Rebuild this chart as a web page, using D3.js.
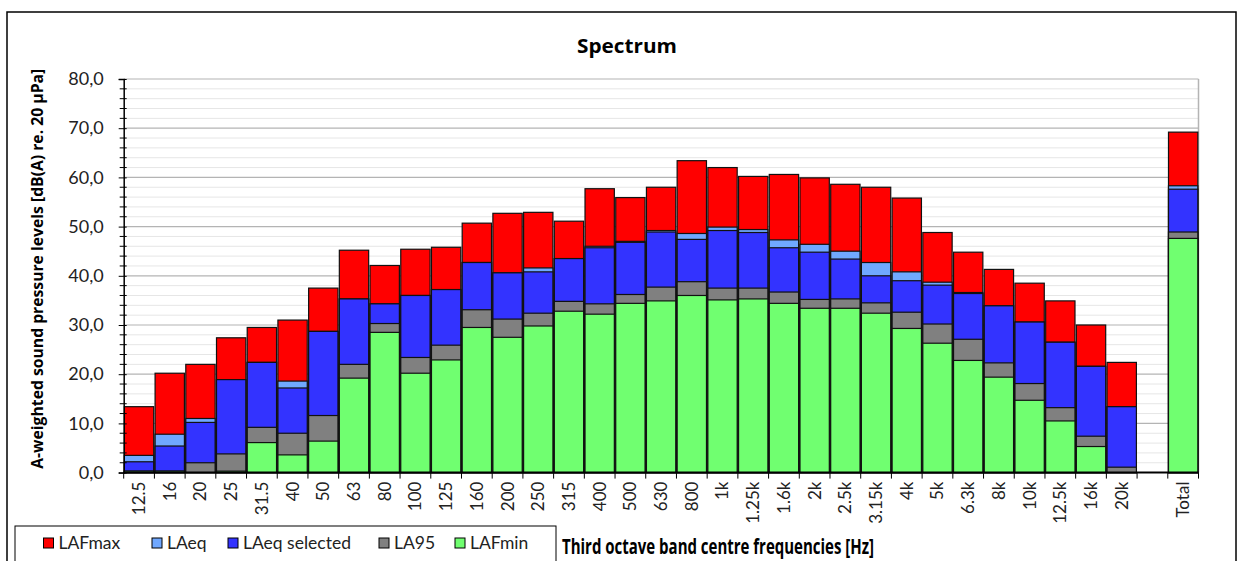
<!DOCTYPE html>
<html><head><meta charset="utf-8">
<script src="https://cdn.jsdelivr.net/npm/d3@7"></script>
<style>
body{margin:0;background:#fff;}
svg{display:block;}
</style></head>
<body>
<svg id="chart" width="1244" height="561"></svg>
<script>
const categories = ["12.5","16","20","25","31.5","40","50","63","80","100","125","160","200","250","315","400","500","630","800","1k","1.25k","1.6k","2k","2.5k","3.15k","4k","5k","6.3k","8k","10k","12.5k","16k","20k"," ","Total"];
const LAFmax   = [13.4,20.2,22.0,27.4,29.5,31.0,37.5,45.2,42.1,45.4,45.8,50.7,52.7,52.9,51.1,57.7,55.9,58.0,63.4,62.0,60.2,60.6,59.9,58.6,58.0,55.8,48.8,44.8,41.3,38.5,34.9,30.0,22.4,null,69.2];
const LAeq     = [3.5,7.8,11.0,18.9,22.4,18.6,28.7,35.3,34.3,36.0,37.2,42.7,40.6,41.6,43.5,46.0,47.0,49.2,48.6,49.9,49.4,47.3,46.4,45.0,42.7,40.8,38.7,36.6,33.9,30.6,26.5,21.6,13.4,null,58.3];
const LAeqSel  = [2.2,5.4,10.2,18.9,22.4,17.2,28.7,35.3,34.3,36.0,37.2,42.7,40.6,40.8,43.5,45.7,46.8,48.9,47.4,49.2,48.8,45.7,44.8,43.4,40.0,39.0,38.1,36.4,33.9,30.6,26.5,21.6,13.4,null,57.6];
const LA95     = [0.3,0.3,2.0,3.8,9.2,8.0,11.6,22.0,30.3,23.4,25.9,33.1,31.2,32.4,34.8,34.3,36.2,37.7,38.8,37.5,37.5,36.7,35.2,35.3,34.5,32.6,30.2,27.1,22.3,18.1,13.2,7.4,1.1,null,48.9];
const LAFmin   = [0.3,0.3,0,0.3,6.1,3.6,6.4,19.2,28.5,20.2,22.9,29.5,27.5,29.8,32.8,32.2,34.4,34.9,36.0,35.1,35.3,34.4,33.4,33.4,32.4,29.3,26.3,22.8,19.4,14.7,10.5,5.3,0,null,47.6];
const seriesNames = ["LAFmax","LAeq","LAeq selected","LA95","LAFmin"];
const seriesColors = ["#ff0000","#70a8ff","#3333ff","#808080","#70ff70"];
const yTicks = [0,10,20,30,40,50,60,70,80];

const series = [LAFmax, LAeq, LAeqSel, LA95, LAFmin];
const svg = d3.select("#chart");
const L = 123.7, R = 1198.5, T = 79, B = 472.6;
const fontR = "Lato, 'Liberation Sans', sans-serif";
const fontB = "'Open Sans', 'Noto Sans', sans-serif";

// outer border
svg.append("rect").attr("x",7).attr("y",12).attr("width",1229).attr("height",570)
  .attr("fill","none").attr("stroke","#000").attr("stroke-width",1.5);

const x = d3.scaleBand().domain(categories).range([L,R]).paddingInner(0.045).paddingOuter(0.022);
const y = d3.scaleLinear().domain([0,80]).range([B,T]);

// gridlines
const g = svg.append("g");
g.selectAll("line.minor").data(d3.range(0,81,2).filter(v=>v%10!==0)).join("line")
  .attr("x1",L).attr("x2",R).attr("y1",d=>y(d)).attr("y2",d=>y(d))
  .attr("stroke","#e6e6e6").attr("stroke-width",1);
g.selectAll("line.major").data(yTicks.filter(v=>v>0)).join("line")
  .attr("x1",L).attr("x2",R).attr("y1",d=>y(d)).attr("y2",d=>y(d))
  .attr("stroke","#b4b4b4").attr("stroke-width",1.2);
// right border
svg.append("line").attr("x1",R).attr("x2",R).attr("y1",T).attr("y2",B).attr("stroke","#b4b4b4").attr("stroke-width",1.5);

// bars
series.forEach((vals,si)=>{
  svg.append("g").selectAll("rect").data(categories.map((c,i)=>({c,v:vals[i]})).filter(d=>d.v!=null && d.v>0))
    .join("rect")
    .attr("x",d=>x(d.c)).attr("width",x.bandwidth())
    .attr("y",d=>y(d.v)).attr("height",d=>y(0)-y(d.v))
    .attr("fill",seriesColors[si]).attr("stroke","#111").attr("stroke-width",1.2);
});

// y axis
const yAxis = d3.axisLeft(y).tickValues(yTicks).tickSize(5).tickFormat(d=>d3.format(".1f")(d).replace(".",","));
const ya = svg.append("g").attr("transform",`translate(${L},0)`).call(yAxis);
ya.select(".domain").attr("stroke","#000").attr("stroke-width",1.5);
ya.selectAll(".tick line").attr("stroke","#000").attr("x2",-5).attr("x1",3);
ya.selectAll(".tick text").attr("font-family",fontR).attr("font-size",18).attr("fill","#222").attr("x",-20);
// minor y ticks
svg.append("g").selectAll("line").data(d3.range(0,81,2).filter(v=>v%10!==0)).join("line")
  .attr("x1",L-4).attr("x2",L+3).attr("y1",d=>y(d)).attr("y2",d=>y(d)).attr("stroke","#000").attr("stroke-width",1);

// x axis
const xa = svg.append("g").attr("transform",`translate(0,${B})`).call(d3.axisBottom(x).tickSize(0));
xa.select(".domain").remove();
svg.append("line").attr("x1",L).attr("x2",R).attr("y1",B).attr("y2",B).attr("stroke","#000").attr("stroke-width",2);
svg.append("g").selectAll("line").data(d3.range(categories.length+1)).join("line")
  .attr("x1",i=>L+ (R-L)*i/categories.length).attr("x2",i=>L+(R-L)*i/categories.length)
  .attr("y1",B).attr("y2",B+6).attr("stroke","#000").attr("stroke-width",1);
xa.selectAll(".tick text")
  .attr("font-family",fontR).attr("font-size",17).attr("fill","#222")
  .attr("transform","rotate(-90)").attr("text-anchor","end").attr("dy","0.35em").attr("x",-9).attr("y",0);

// title
svg.append("text").attr("x",627).attr("y",53).attr("text-anchor","middle")
  .attr("font-family",fontB).attr("font-weight","bold").attr("font-size",20)
  .attr("textLength",100).attr("lengthAdjust","spacingAndGlyphs").text("Spectrum");
// y label
svg.append("text").attr("transform",`translate(43,${(T+B)/2-7}) rotate(-90)`).attr("text-anchor","middle")
  .attr("font-family",fontB).attr("font-weight","bold").attr("font-size",16.5)
  .attr("textLength",400).attr("lengthAdjust","spacingAndGlyphs").text("A-weighted sound pressure levels [dB(A) re. 20 µPa]");
// x label
svg.append("text").attr("x",562).attr("y",554)
  .attr("font-family",fontB).attr("font-weight","bold").attr("font-size",20.5)
  .attr("textLength",312).attr("lengthAdjust","spacingAndGlyphs").text("Third octave band centre frequencies [Hz]");

// legend
svg.append("rect").attr("x",15).attr("y",526).attr("width",541).attr("height",50).attr("fill","#fff").attr("stroke","#000").attr("stroke-width",1);
const legX = [43.5,152,228,379,455];
const lg = svg.append("g").selectAll("g").data(seriesNames).join("g")
  .attr("transform",(d,i)=>`translate(${legX[i]},538)`);
lg.append("rect").attr("width",10).attr("height",10).attr("fill",(d,i)=>seriesColors[i]).attr("stroke","#000").attr("stroke-width",1);
lg.append("text").attr("x",15).attr("y",11).attr("font-family",fontR).attr("font-size",17.5).attr("fill","#222").text(d=>d);
</script>
</body></html>
